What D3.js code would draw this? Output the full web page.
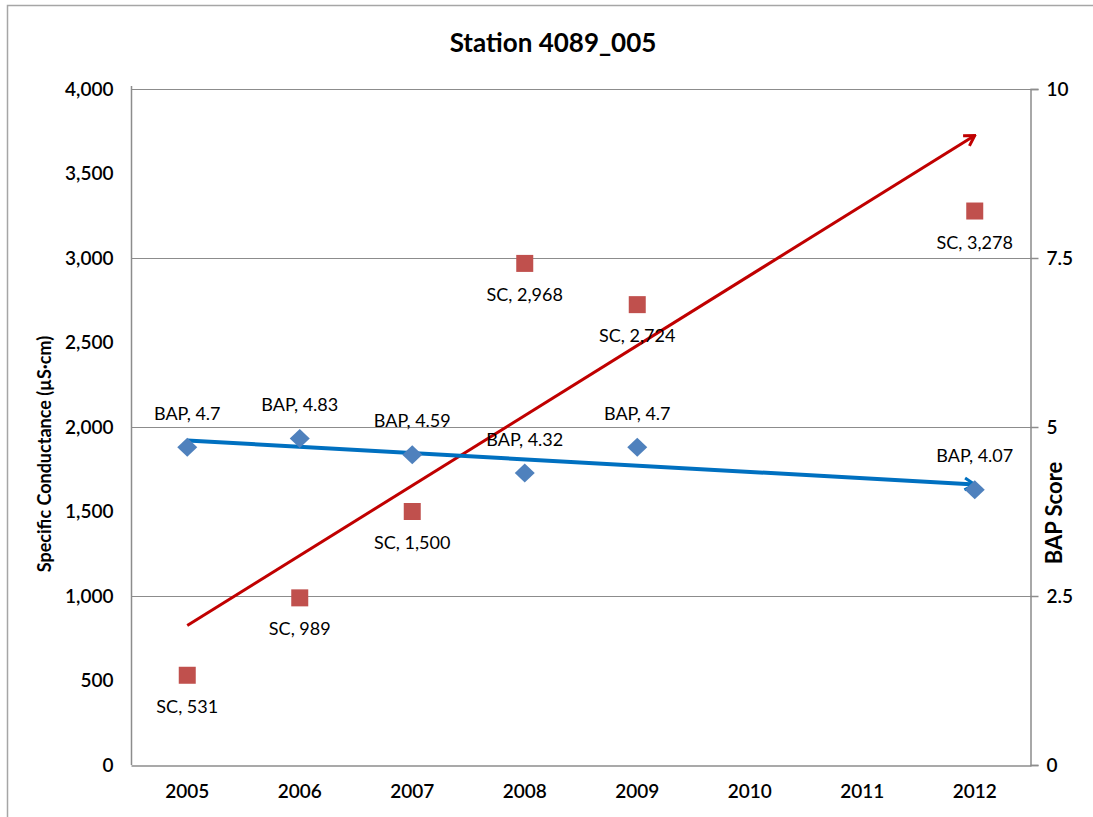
<!DOCTYPE html>
<html>
  <head>
    <meta charset="utf-8">
    <title>Station 4089_005</title>
    <script src="https://d3js.org/d3.v7.min.js"></script>
    <style>
      body { margin: 0; background: #fff; }
      svg text { font-family: Lato, "Open Sans", sans-serif; fill: #000; }
    </style>
  </head>
  <body>
    <div id="vis"></div>
    <script>
        const width = 1093;
        const height = 817;

        // chart data
        const years = ["2005", "2006", "2007", "2008", "2009", "2010", "2011", "2012"];
        const scYears = ["2005", "2006", "2007", "2008", "2009", "2012"];
        const scValues = [531, 989, 1500, 2968, 2724, 3278];
        const scLabels = ["SC, 531", "SC, 989", "SC, 1,500", "SC, 2,968", "SC, 2,724", "SC, 3,278"];
        const bapYears = ["2005", "2006", "2007", "2008", "2009", "2012"];
        const bapValues = [4.7, 4.83, 4.59, 4.32, 4.7, 4.07];
        const bapLabels = ["BAP, 4.7", "BAP, 4.83", "BAP, 4.59", "BAP, 4.32", "BAP, 4.7", "BAP, 4.07"];
        // trend line end points (2005 -> 2012)
        const scTrend = [825, 3725];
        const bapTrend = [4.80, 4.15];
        const leftTicks = [0, 500, 1000, 1500, 2000, 2500, 3000, 3500, 4000];
        const rightTicks = [0, 2.5, 5, 7.5, 10];
        const gridTicks = [1000, 2000, 3000, 4000];

        const plot = {left: 131, right: 1031, top: 89, bottom: 765};

        let vis = d3.select('#vis')
                    .append('svg')
                    .attr('width', width)
                    .attr('height', height);

        // outer chart border (only left and top visible)
        vis.append("rect")
           .attr("x", 7.5).attr("y", 5.5)
           .attr("width", width + 20).attr("height", height + 20)
           .attr("fill", "none")
           .attr("stroke", "#a6a6a6")
           .attr("stroke-width", 1.5);

        const x = d3.scaleBand().domain(years).range([plot.left, plot.right]);
        const cx = d => x(d) + x.bandwidth() / 2;
        const yL = d3.scaleLinear().domain([0, 4000]).range([plot.bottom, plot.top]);
        const yR = d3.scaleLinear().domain([0, 10]).range([plot.bottom, plot.top]);

        // gridlines
        vis.append("g")
           .selectAll("line")
           .data(gridTicks)
           .enter()
           .append("line")
           .attr("x1", plot.left).attr("x2", plot.right)
           .attr("y1", d => yL(d) + 0.5).attr("y2", d => yL(d) + 0.5)
           .attr("stroke", "#8c8c8c")
           .attr("stroke-width", 1);

        // left axis
        const gLeft = vis.append("g")
           .attr("transform", `translate(${plot.left + 0.5},0)`)
           .call(d3.axisLeft(yL).tickValues(leftTicks).tickSize(0).tickPadding(18).tickFormat(d3.format(",")));
        // right axis
        const gRight = vis.append("g")
           .attr("transform", `translate(${plot.right - 0.5},0)`)
           .call(d3.axisRight(yR).tickValues(rightTicks).tickSize(8).tickPadding(8).tickFormat(d => d));
        // bottom axis
        const gBottom = vis.append("g")
           .attr("transform", `translate(0,${plot.bottom + 0.5})`)
           .call(d3.axisBottom(x).tickSize(0).tickPadding(19));

        [gLeft, gRight, gBottom].forEach(g => {
            g.select(".domain").attr("stroke", "#8c8c8c").attr("stroke-width", 1.5);
            g.selectAll(".tick line").attr("stroke", "#8c8c8c").attr("stroke-width", 1.5);
            g.selectAll("text").attr("font-size", 19).attr("font-weight", 600)
             .attr("font-family", "Lato, sans-serif").attr("fill", "#111");
        });
        gLeft.selectAll(".domain").attr("d", `M0,${plot.top - 3}V${plot.bottom}`);

        // title
        vis.append("text")
           .attr("x", 553).attr("y", 52)
           .attr("text-anchor", "middle")
           .attr("font-size", 26).attr("font-weight", 700)
           .text("Station 4089_005");

        // axis titles
        vis.append("text")
           .attr("transform", "translate(51,454) rotate(-90)")
           .attr("text-anchor", "middle")
           .attr("font-size", 18).attr("font-weight", 700)
           .text("Specific Conductance (µS·cm)");
        vis.append("text")
           .attr("transform", "translate(1062,513) rotate(-90)")
           .attr("text-anchor", "middle")
           .attr("font-size", 22).attr("font-weight", 700)
           .text("BAP Score");

        // arrow heads
        const defs = vis.append("defs");
        [["arrRed", "#c00000"], ["arrBlue", "#0070c0"]].forEach(([id, col]) => {
            defs.append("marker")
                .attr("id", id)
                .attr("viewBox", "-12 -8 14 16")
                .attr("refX", 0).attr("refY", 0)
                .attr("markerWidth", 14).attr("markerHeight", 16)
                .attr("markerUnits", "userSpaceOnUse")
                .attr("orient", "auto")
                .append("path")
                .attr("d", "M-10,-6L0,0L-10,6")
                .attr("fill", "none")
                .attr("stroke", col)
                .attr("stroke-width", 3)
                .attr("stroke-linejoin", "miter");
        });

        // trend lines
        vis.append("line")
           .attr("x1", cx("2005")).attr("y1", yL(scTrend[0]))
           .attr("x2", cx("2012")).attr("y2", yL(scTrend[1]))
           .attr("stroke", "#c00000").attr("stroke-width", 3)
           .attr("marker-end", "url(#arrRed)");
        vis.append("line")
           .attr("x1", cx("2005")).attr("y1", yR(bapTrend[0]))
           .attr("x2", cx("2012")).attr("y2", yR(bapTrend[1]))
           .attr("stroke", "#0070c0").attr("stroke-width", 4)
           .attr("marker-end", "url(#arrBlue)");

        // SC squares
        const sc = scYears.map((yr, i) => ({yr: yr, v: scValues[i], label: scLabels[i]}));
        vis.append("g")
           .selectAll("rect")
           .data(sc)
           .enter()
           .append("rect")
           .attr("x", d => cx(d.yr) - 8.5).attr("y", d => yL(d.v) - 8.5)
           .attr("width", 17).attr("height", 17)
           .attr("fill", "#c0504d");

        // BAP diamonds
        const bap = bapYears.map((yr, i) => ({yr: yr, v: bapValues[i], label: bapLabels[i]}));
        vis.append("g")
           .selectAll("path")
           .data(bap)
           .enter()
           .append("path")
           .attr("d", d => {
               const px = cx(d.yr), py = yR(d.v);
               return `M${px},${py - 9.5}L${px + 10},${py}L${px},${py + 9.5}L${px - 10},${py}Z`;
           })
           .attr("fill", "#4f81bd");

        // data labels
        vis.append("g")
           .selectAll("text")
           .data(sc)
           .enter()
           .append("text")
           .attr("x", d => cx(d.yr)).attr("y", d => yL(d.v) + 33)
           .attr("text-anchor", "middle")
           .attr("dominant-baseline", "middle")
           .attr("font-size", 18)
           .text(d => d.label);
        vis.append("g")
           .selectAll("text")
           .data(bap)
           .enter()
           .append("text")
           .attr("x", d => cx(d.yr)).attr("y", d => yR(d.v) - 32)
           .attr("text-anchor", "middle")
           .attr("dominant-baseline", "middle")
           .attr("font-size", 18)
           .text(d => d.label);
    </script>
  </body>
</html>
